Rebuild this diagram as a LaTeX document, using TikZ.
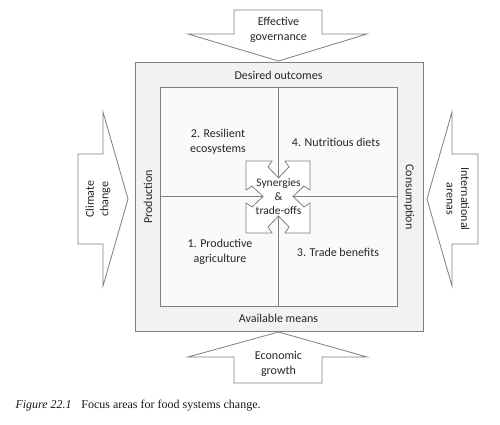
\documentclass[tikz,border=0pt]{standalone}
\usepackage{fontspec}
\setmainfont{Carlito}
\newfontfamily\capfont{Liberation Serif}
\definecolor{bandgray}{HTML}{F2F2F2}
\definecolor{innergray}{HTML}{FAFAFA}
\definecolor{linegray}{HTML}{7F7F7F}
\begin{document}
\begin{tikzpicture}[x=1pt, y=-1pt,
    every node/.style={font=\fontsize{12}{14.5}\selectfont, text=black!85, align=center},
    frame/.style={draw=linegray, line width=0.8pt, inner sep=0pt},
    blockarrow/.style={draw=linegray, line width=0.8pt, fill=white, line join=miter}]
    \useasboundingbox (0,0) rectangle (500,425);

    % frame and quadrants
    \node[frame, fill=bandgray, minimum width=288pt, minimum height=269pt] (outer) at (279,196.5) {};
    \node[frame, fill=innergray, minimum width=237pt, minimum height=219pt] (inner) at (278.5,196.5) {};
    \draw[linegray, line width=0.8pt] (inner.north) -- (inner.south);
    \draw[linegray, line width=0.8pt] (inner.west) -- (inner.east);

    % synergies box with four inward notches
    \draw[blockarrow] (246,161) -- (272,161) -- (268,167) -- (278.5,178) -- (289,167) -- (285,161) -- (310,161)
        -- (310,190) -- (304,186) -- (293,196.5) -- (304,207) -- (310,203) -- (310,233)
        -- (285,233) -- (289,227) -- (278.5,216) -- (268,227) -- (272,233) -- (246,233)
        -- (246,203) -- (252,207) -- (263,196.5) -- (252,186) -- (246,190) -- cycle;
    \node[font=\fontsize{11.5}{14}\selectfont] (syn) at (278.5,197) {Synergies\\\&\\trade-offs};

    % outside drivers
    \draw[blockarrow] (234,10) -- (322,10) -- (322,34) -- (367,34) -- (278.5,61) -- (188,34) -- (234,34) -- cycle;
    \draw[blockarrow] (278.5,332) -- (367,357) -- (322,357) -- (322,383) -- (234,383) -- (234,357) -- (188,357) -- cycle;
    \draw[blockarrow] (78,154) -- (103,154) -- (103,112) -- (128,199) -- (103,286) -- (103,244) -- (78,244) -- cycle;
    \draw[blockarrow] (478,154) -- (452,154) -- (452,112) -- (427,199) -- (452,286) -- (452,244) -- (478,244) -- cycle;

    \node (gov) at (278.5,30) {Effective\\governance};
    \node (econ) at (278.5,364) {Economic\\growth};
    \node[rotate=90] (clim) at (98,199) {Climate\\change};
    \node[rotate=-90] (intl) at (458,199) {International\\arenas};

    % band labels
    \node (desired) at (278.5,75) {Desired outcomes};
    \node (avail) at (278.5,318) {Available means};
    \node[rotate=90] (prod) at (148,197) {Production};
    \node[rotate=-90] (cons) at (409,197) {Consumption};

    % focus areas
    \node (q2) at (218,142) {2. Resilient\\ecosystems};
    \node (q4) at (336,142) {4. Nutritious diets};
    \node (q1) at (220,252) {1. Productive\\agriculture};
    \node (q3) at (338,252) {3. Trade benefits};

    \node[anchor=west, font=\capfont\fontsize{12}{14}\selectfont, text=black!90] (cap) at (12,406)
        {\textit{Figure 22.1}\hspace{0.8em}Focus areas for food systems change.};
\end{tikzpicture}
\end{document}
